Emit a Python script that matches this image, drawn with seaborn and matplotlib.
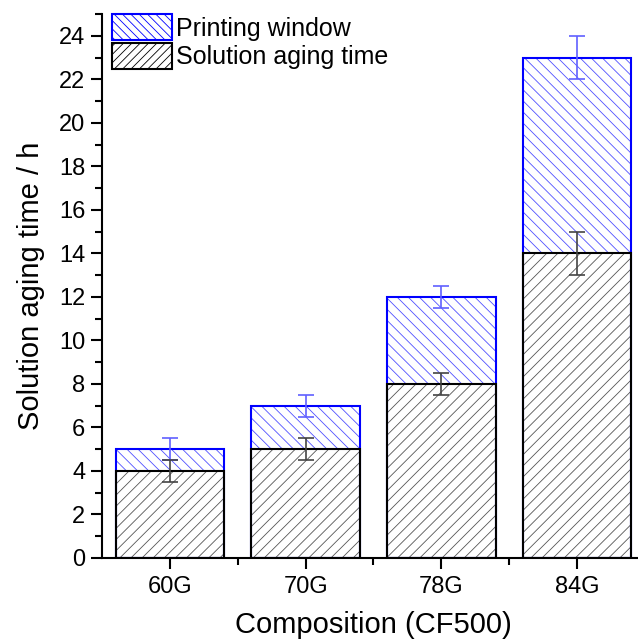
import matplotlib
matplotlib.use("Agg")
import matplotlib.pyplot as plt
import seaborn as sns
import numpy as np
from matplotlib.ticker import MultipleLocator
from matplotlib.patches import Patch

categories = ["60G", "70G", "78G", "84G"]
aging_time = [4, 5, 8, 14]
aging_err = [0.5, 0.5, 0.5, 1.0]
total_time = [5, 7, 12, 23]
total_err = [0.5, 0.5, 0.5, 1.0]

sns.set_theme(style="ticks")
plt.rcParams["font.family"] = ["Liberation Sans", "DejaVu Sans"]
plt.rcParams["hatch.linewidth"] = 0.6

fig = plt.figure(figsize=(6.38, 6.39), dpi=100)
ax = fig.add_axes([102 / 638, 1 - 558 / 639, 543 / 638, 544 / 639])

blue = "#0000FF"
blue_hatch = "#5050FF"
gray_hatch = "#555555"

n = len(categories)
# stacked: total (printing window on top) then aging time
sns.barplot(x=categories, y=total_time, color="white", width=0.8, ax=ax,
            errorbar=None, linewidth=0, saturation=1)
sns.barplot(x=categories, y=aging_time, color="white", width=0.8, ax=ax,
            errorbar=None, linewidth=0, saturation=1)
# outlines
sns.barplot(x=categories, y=total_time, width=0.8, ax=ax, errorbar=None,
            fill=False, color=blue, linewidth=1.5)
sns.barplot(x=categories, y=aging_time, width=0.8, ax=ax, errorbar=None,
            fill=False, color="black", linewidth=1.5)

for i, p in enumerate(ax.patches):
    if i < n:
        p.set_edgecolor(blue_hatch); p.set_linewidth(0); p.set_hatch("\\\\\\")
    elif i < 2 * n:
        p.set_edgecolor(gray_hatch); p.set_linewidth(0); p.set_hatch("///")

xs = np.arange(n)
ax.errorbar(xs, total_time, yerr=total_err, fmt="none", ecolor="#6060FF",
            elinewidth=1.2, capsize=6, capthick=1.2, zorder=5)
ax.errorbar(xs, aging_time, yerr=aging_err, fmt="none", ecolor="#444444",
            elinewidth=1.2, capsize=6, capthick=1.2, zorder=5)

ax.set_xlim(-0.5, 3.5)
ax.set_ylim(0, 25)
ax.yaxis.set_major_locator(MultipleLocator(2))
ax.yaxis.set_minor_locator(MultipleLocator(1))
ax.set_xticks(xs)
ax.set_xticklabels(categories)
ax.set_xticks(xs[:-1] + 0.5, minor=True)
ax.tick_params(axis="both", which="major", length=8, width=1.5, labelsize=17,
               direction="out", color="black", labelcolor="black")
ax.tick_params(axis="both", which="minor", length=5, width=1.5, direction="out",
               color="black")
ax.tick_params(axis="x", which="major", pad=5)
ax.tick_params(axis="y", which="major", pad=4)
for s in ["top", "right"]:
    ax.spines[s].set_visible(False)
for s in ["left", "bottom"]:
    ax.spines[s].set_linewidth(1.5)
    ax.spines[s].set_color("black")

ax.set_xlabel("Composition (CF500)", fontsize=21, color="black", labelpad=9)
ax.set_ylabel("Solution aging time / h", fontsize=21, color="black", labelpad=10)

h1 = Patch(facecolor="white", edgecolor=blue, hatch="\\\\\\\\", linewidth=1.5)
h2 = Patch(facecolor="white", edgecolor="black", hatch="////", linewidth=1.5)
leg = ax.legend([h1, h2], ["Printing window", "Solution aging time"], loc="upper left",
                frameon=False, fontsize=18, handlelength=2.4, handleheight=1.25,
                labelspacing=0.08, borderaxespad=0.0, borderpad=0.0,
                bbox_to_anchor=(10 / 543, 1.0), handletextpad=0.15)
for t in leg.get_texts():
    t.set_color("black")

fig.savefig("out.png", dpi=100)
